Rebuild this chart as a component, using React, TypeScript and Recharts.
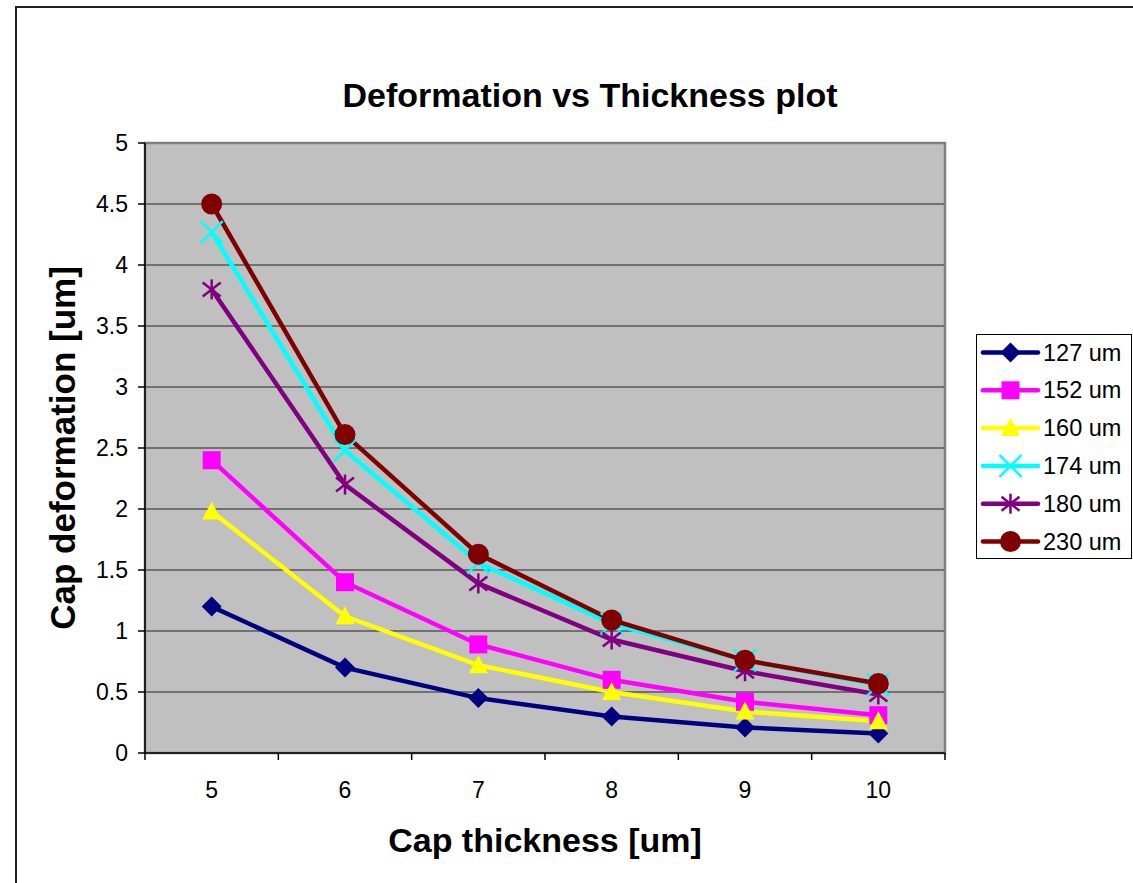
import {
    LineChart,
    Line,
    XAxis,
    YAxis,
    CartesianGrid,
    ReferenceArea,
    ReferenceLine,
    Legend
} from 'recharts';

const FONT = '"Liberation Sans", Arial, sans-serif';

// Cap thickness [um] on the x axis
const thickness = [5, 6, 7, 8, 9, 10];
const bandEdges = [4.5, 5.5, 6.5, 7.5, 8.5, 9.5, 10.5];
const yTicks = [0, 0.5, 1, 1.5, 2, 2.5, 3, 3.5, 4, 4.5, 5];

// Cap deformation [um], one list per membrane size
const def127 = [1.2, 0.7, 0.45, 0.3, 0.21, 0.16];
const def152 = [2.4, 1.4, 0.89, 0.6, 0.42, 0.31];
const def160 = [1.98, 1.12, 0.72, 0.5, 0.34, 0.26];
const def174 = [4.27, 2.48, 1.56, 1.06, 0.76, 0.56];
const def180 = [3.8, 2.2, 1.39, 0.93, 0.67, 0.48];
const def230 = [4.5, 2.61, 1.63, 1.09, 0.76, 0.57];

type Marker = 'diamond' | 'square' | 'triangle' | 'x' | 'star' | 'circle';

const series: { key: string; name: string; color: string; marker: Marker; values: number[] }[] = [
    { key: 's127', name: '127 um', color: '#000080', marker: 'diamond', values: def127 },
    { key: 's152', name: '152 um', color: '#FF00FF', marker: 'square', values: def152 },
    { key: 's160', name: '160 um', color: '#FFFF00', marker: 'triangle', values: def160 },
    { key: 's174', name: '174 um', color: '#00FFFF', marker: 'x', values: def174 },
    { key: 's180', name: '180 um', color: '#800080', marker: 'star', values: def180 },
    { key: 's230', name: '230 um', color: '#800000', marker: 'circle', values: def230 }
];

const chartData = thickness.map((t, i) => {
    const row: Record<string, number> = { x: t };
    series.forEach(s => { row[s.key] = s.values[i]; });
    return row;
});

function drawMarker(kind: Marker, cx: number, cy: number, color: string, key?: string) {
    switch (kind) {
        case 'diamond':
            return <path key={key} d={`M${cx},${cy - 10}L${cx + 10},${cy}L${cx},${cy + 10}L${cx - 10},${cy}Z`} fill={color} />;
        case 'square':
            return <rect key={key} x={cx - 9} y={cy - 9} width={18} height={18} fill={color} />;
        case 'triangle':
            return <path key={key} d={`M${cx},${cy - 10}L${cx + 9.5},${cy + 8}L${cx - 9.5},${cy + 8}Z`} fill={color} />;
        case 'x':
            return (
                <g key={key} stroke={color} strokeWidth={2.5}>
                    <line x1={cx - 11} y1={cy - 11} x2={cx + 11} y2={cy + 11} />
                    <line x1={cx - 11} y1={cy + 11} x2={cx + 11} y2={cy - 11} />
                </g>
            );
        case 'star':
            return (
                <g key={key} stroke={color} strokeWidth={2.5}>
                    <line x1={cx - 9} y1={cy - 7} x2={cx + 9} y2={cy + 7} />
                    <line x1={cx - 9} y1={cy + 7} x2={cx + 9} y2={cy - 7} />
                    <line x1={cx} y1={cy - 10} x2={cx} y2={cy + 10} />
                </g>
            );
        default:
            return <circle key={key} cx={cx} cy={cy} r={10.5} fill={color} />;
    }
}

function LegendBox() {
    return (
        <svg width={157} height={226} style={{ display: 'block' }}>
            <rect x={0.5} y={0.5} width={155} height={224} fill="#fff" stroke="#000" strokeWidth={1} />
            {series.map((s, i) => {
                const cy = 18.5 + i * 37.8;
                return (
                    <g key={s.key}>
                        <line x1={7} y1={cy} x2={62} y2={cy} stroke={s.color} strokeWidth={4.5} strokeLinecap="round" />
                        {drawMarker(s.marker, 34.5, cy, s.color)}
                        <text x={67} y={cy} dominantBaseline="central" fontSize={23.5} fontFamily={FONT} fill="#000">{s.name}</text>
                    </g>
                );
            })}
        </svg>
    );
}

export default function App() {
    return (
        <div style={{ position: 'absolute', left: 0, top: 0, width: 1133, height: 883, overflow: 'hidden', background: '#fff' }}>
            {/* chart area frame, only its left and top edges fall in view */}
            <div style={{ position: 'absolute', left: 15, top: 6, width: 1300, height: 1000, border: '2px solid #222' }} />
            <div style={{
                position: 'absolute', left: 0, width: 1180, top: 76, textAlign: 'center',
                fontFamily: FONT, fontWeight: 'bold', fontSize: 34, color: '#000'
            }}>
                Deformation vs Thickness plot
            </div>
            <div style={{ position: 'absolute', left: 0, top: 0 }}>
                {/* legend width (157) gets added to the right offset, so right margin is 188 - 157 */}
                <LineChart width={1133} height={883} data={chartData} margin={{ top: 143, right: 31, left: 85, bottom: 70 }}>
                    <CartesianGrid horizontal vertical={false} fill="#C0C0C0" stroke="#222" strokeWidth={1} fillOpacity={1} />
                    <ReferenceArea x1={4.5} x2={10.5} y1={0} y2={5} fill="none" stroke="#808080" strokeWidth={2.5} ifOverflow="visible" />
                    <XAxis
                        type="number"
                        dataKey="x"
                        domain={[4.5, 10.5]}
                        ticks={thickness}
                        axisLine={{ stroke: '#000', strokeWidth: 1.5 }}
                        tickLine={false}
                        tickSize={7}
                        tickMargin={22}
                        height={60}
                        tick={{ fill: '#000', fontSize: 23, fontFamily: FONT }}
                        label={{
                            content: ({ viewBox }: any) => (
                                <text
                                    x={viewBox.x + viewBox.width / 2}
                                    y={viewBox.y + viewBox.height + 27}
                                    textAnchor="middle"
                                    dominantBaseline="central"
                                    fontSize={34}
                                    fontWeight="bold"
                                    fontFamily={FONT}
                                    fill="#000"
                                >
                                    Cap thickness [um]
                                </text>
                            )
                        }}
                    />
                    <YAxis
                        domain={[0, 5]}
                        ticks={yTicks}
                        width={60}
                        tickSize={7}
                        tickMargin={10}
                        axisLine={{ stroke: '#000', strokeWidth: 1.5 }}
                        tickLine={{ stroke: '#000', strokeWidth: 1.5 }}
                        tick={{ fill: '#000', fontSize: 23, fontFamily: FONT }}
                        label={{
                            content: ({ viewBox }: any) => {
                                const x = viewBox.x - 23;
                                const y = viewBox.y + viewBox.height / 2;
                                return (
                                    <text
                                        x={x}
                                        y={y}
                                        transform={`rotate(-90, ${x}, ${y})`}
                                        textAnchor="middle"
                                        dominantBaseline="central"
                                        fontSize={35}
                                        fontWeight="bold"
                                        fontFamily={FONT}
                                        fill="#000"
                                    >
                                        Cap deformation [um]
                                    </text>
                                );
                            }
                        }}
                    />
                    {/* tick marks sit between categories, as in the Excel original (~7px below the axis) */}
                    {bandEdges.map(e => (
                        <ReferenceLine
                            key={`edge-${e}`}
                            segment={[{ x: e, y: 0 }, { x: e, y: -0.057 }]}
                            stroke="#000"
                            strokeWidth={1.5}
                            ifOverflow="visible"
                        />
                    ))}
                    <Legend
                        layout="horizontal"
                        verticalAlign="middle"
                        align="right"
                        content={() => <LegendBox />}
                        wrapperStyle={{ left: 976, top: 334, width: 157, height: 226, right: 'auto', bottom: 'auto' }}
                    />
                    {series.map(s => (
                        <Line
                            key={s.key}
                            type="linear"
                            dataKey={s.key}
                            name={s.name}
                            stroke={s.color}
                            strokeWidth={4.5}
                            isAnimationActive={false}
                            activeDot={false}
                            dot={(p: any) => drawMarker(s.marker, p.cx, p.cy, s.color, `${s.key}-${p.index}`)}
                        />
                    ))}
                </LineChart>
            </div>
        </div>
    );
}
